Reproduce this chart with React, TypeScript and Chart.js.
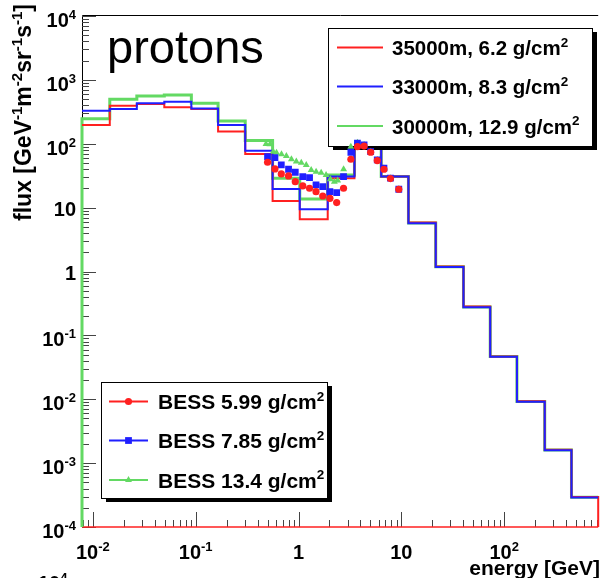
import React, { useEffect, useRef } from 'react';
import { Chart, registerables } from 'chart.js';

Chart.register(...registerables);

// ---------- data ----------
const binEdges = [0.00785, 0.01462, 0.02679, 0.04955, 0.0908, 0.1652, 0.3034, 0.5598, 1.028, 1.923, 3.499, 6.368, 11.72, 21.58, 40.18, 73.11, 133.0, 247.7, 450.8, 820];

const flux35000m = [197, 394, 420, 372, 351, 155, 69, 12.7, 6.6, 28.8, 100, 30.6, 5.85, 1.2, 0.283, 0.0468, 0.0093, 0.00162, 0.000296];
const flux33000m = [330, 351, 430, 456, 357, 197, 78, 19.6, 9.4, 30.6, 100, 30.8, 5.7, 1.18, 0.276, 0.0462, 0.0091, 0.00159, 0.00029];
const flux30000m = [247, 497, 560, 581, 430, 227, 112, 28.8, 13.7, 32.5, 103, 30.6, 5.75, 1.19, 0.279, 0.0465, 0.0092, 0.0016, 0.000292];

const bessEnergyA = [0.50, 0.59, 0.68, 0.80, 0.93, 1.10, 1.28, 1.48, 1.72, 2.02, 2.35, 2.74, 3.23, 3.74, 4.34, 5.03, 5.83, 6.77, 7.83, 9.44];
const bess599 = [51.3, 40.4, 33.7, 31.3, 25.5, 21.9, 20.1, 17.8, 15.2, 14.0, 12.0, 20.1, 57.2, 90, 92, 73.6, 54.5, 39.9, 28.5, 19.4];
const bess785 = [62.8, 60.6, 46.6, 39.9, 35.8, 30.6, 29.5, 22.7, 21.3, 17.8, 17.2, 30.6, 73.6, 102, 95.7, 75.2, 55.8, 41.4, 28.9, 19.4];
const bessEnergyB = [0.483, 0.528, 0.568, 0.611, 0.683, 0.762, 0.853, 0.952, 1.064, 1.189, 1.328, 1.483, 1.660, 1.853, 2.043, 2.232, 2.403, 2.744, 3.226, 3.743, 4.342, 5.026, 5.834, 6.766, 7.833, 9.44];
const bess134 = [99.3, 98.2, 75.2, 72.6, 68.5, 64.5, 57.2, 52.5, 50.6, 46.6, 38.9, 36.6, 35.3, 32.5, 27.8, 25.5, 26.5, 39.9, 90.1, 104, 95.7, 75.2, 55.8, 41.4, 28.9, 19.4];

const histLabels = ['35000m, 6.2 g/cm^{2}', '33000m, 8.3 g/cm^{2}', '30000m, 12.9 g/cm^{2}'];
const bessLabels = ['BESS 5.99 g/cm^{2}', 'BESS 7.85 g/cm^{2}', 'BESS 13.4 g/cm^{2}'];

const xTickValues = [0.01, 0.1, 1, 10, 100];
const xTickLabels = ['10^{-2}', '10^{-1}', '1', '10', '10^{2}'];
const yTickValues = [1e-4, 1e-3, 1e-2, 1e-1, 1, 10, 100, 1000, 10000];
const yTickLabels = ['10^{-4}', '10^{-3}', '10^{-2}', '10^{-1}', '1', '10', '10^{2}', '10^{3}', '10^{4}'];

const xTitle = 'energy [GeV]';
const yTitle = 'flux [GeV^{-1}m^{-2}sr^{-1}s^{-1}]';
const plotLabel = 'protons';

const X_MIN = 0.00785;
const X_MAX = 820;
const Y_MIN = 1e-4;
const Y_MAX = 1e4;

const RED = '#ff2020';
const BLUE = '#1f1fff';
const GREEN = '#63d963';
const FONT = '"Liberation Sans", Arial, Helvetica, sans-serif';

// ---------- helpers ----------
type Seg = { t: string; sup?: boolean };
function parseSup(s: string): Seg[] {
  const out: Seg[] = [];
  const re = /\^\{([^}]*)\}/g;
  let last = 0;
  let m: RegExpExecArray | null;
  while ((m = re.exec(s))) {
    if (m.index > last) out.push({ t: s.slice(last, m.index) });
    out.push({ t: m[1], sup: true });
    last = re.lastIndex;
  }
  if (last < s.length) out.push({ t: s.slice(last) });
  return out;
}
function segsWidth(ctx: CanvasRenderingContext2D, segs: Seg[], size: number, supSize: number, weight: string) {
  let w = 0;
  for (const s of segs) {
    ctx.font = `${weight} ${s.sup ? supSize : size}px ${FONT}`;
    w += ctx.measureText(s.t).width;
  }
  return w;
}
function drawSegs(ctx: CanvasRenderingContext2D, segs: Seg[], x: number, base: number, size: number, supSize: number, weight: string, rise: number) {
  let cx = x;
  ctx.textAlign = 'left';
  ctx.textBaseline = 'alphabetic';
  for (const s of segs) {
    ctx.font = `${weight} ${s.sup ? supSize : size}px ${FONT}`;
    ctx.fillText(s.t, cx, s.sup ? base - rise : base);
    cx += ctx.measureText(s.t).width;
  }
  return cx;
}

// step outline of a histogram; optional closing lines down to the axis floor
function stepPoints(edges: number[], vals: number[], floor: number, riseLeft: boolean, dropRight: boolean) {
  const pts: { x: number; y: number }[] = [];
  if (riseLeft) pts.push({ x: edges[0], y: floor });
  vals.forEach((v, i) => pts.push({ x: edges[i], y: v }));
  pts.push({ x: edges[edges.length - 1], y: vals[vals.length - 1] });
  if (dropRight) pts.push({ x: edges[edges.length - 1], y: floor });
  return pts;
}
function zip(xs: number[], ys: number[]) {
  return xs.map((x, i) => ({ x, y: ys[i] }));
}

function drawMarker(ctx: CanvasRenderingContext2D, style: string, x: number, y: number, r: number, color: string) {
  ctx.fillStyle = color;
  ctx.beginPath();
  if (style === 'circle') {
    ctx.arc(x, y, r, 0, Math.PI * 2);
  } else if (style === 'rect') {
    const s = r / Math.SQRT2;
    ctx.rect(x - s, y - s, 2 * s, 2 * s);
  } else {
    for (let k = 0; k < 3; k++) {
      const a = -Math.PI / 2 + (k * 2 * Math.PI) / 3;
      const px = x + r * Math.cos(a);
      const py = y + r * Math.sin(a);
      if (k === 0) ctx.moveTo(px, py); else ctx.lineTo(px, py);
    }
    ctx.closePath();
  }
  ctx.fill();
}

function drawLegendBox(ctx: CanvasRenderingContext2D, x: number, y: number, w: number, h: number) {
  ctx.fillStyle = '#000';
  ctx.fillRect(x + 5, y + 4, w, h);
  ctx.fillStyle = '#fff';
  ctx.fillRect(x, y, w, h);
  ctx.strokeStyle = '#000';
  ctx.lineWidth = 1;
  ctx.strokeRect(x + 0.5, y + 0.5, w, h);
}

const rootPlugin = {
  id: 'rootStyle',
  beforeDatasetsDraw(chart: any) {
    const { ctx, chartArea: a, scales } = chart;
    const x = scales.x;
    const y = scales.y;
    ctx.save();
    // frame
    ctx.strokeStyle = '#000';
    ctx.lineWidth = 1;
    ctx.beginPath();
    ctx.moveTo(a.left + 0.5, a.bottom);
    ctx.lineTo(a.left + 0.5, a.top - 0.5);
    ctx.lineTo(a.right, a.top - 0.5);
    ctx.stroke();
    // ticks
    ctx.strokeStyle = '#444';
    ctx.beginPath();
    for (let e = -4; e <= 4; e++) {
      for (let k = 1; k <= 9; k++) {
        const v = k * Math.pow(10, e);
        if (v < Y_MIN * 0.999 || v > Y_MAX * 1.001) continue;
        const py = Math.round(y.getPixelForValue(v)) + 0.5;
        const len = k === 1 ? 14 : 7;
        ctx.moveTo(a.left, py);
        ctx.lineTo(a.left + len, py);
      }
    }
    for (let e = -3; e <= 2; e++) {
      for (let k = 1; k <= 9; k++) {
        const v = k * Math.pow(10, e);
        if (v < X_MIN || v > X_MAX) continue;
        const px = Math.round(x.getPixelForValue(v)) + 0.5;
        const len = k === 1 ? 15 : 7;
        ctx.moveTo(px, a.bottom);
        ctx.lineTo(px, a.bottom - len);
      }
    }
    ctx.stroke();
    // bottom red line
    ctx.strokeStyle = RED;
    ctx.lineWidth = 1.5;
    ctx.beginPath();
    ctx.moveTo(a.left, a.bottom);
    ctx.lineTo(a.right, a.bottom);
    ctx.stroke();
    ctx.restore();
  },
  afterDatasetDraw(chart: any, args: any) {
    if (args.index !== 1) return;
    const { ctx } = chart;
    const ds = chart.data.datasets;
    ctx.save();
    // legend 1: histograms
    const l1 = { x: 328, y: 28, w: 264, h: 118 };
    drawLegendBox(ctx, l1.x, l1.y, l1.w, l1.h);
    const rows = [19.5, 58.5, 98];
    for (let i = 0; i < 3; i++) {
      const ry = l1.y + rows[i];
      ctx.strokeStyle = ds[i].borderColor;
      ctx.lineWidth = 2;
      ctx.beginPath();
      ctx.moveTo(337, ry);
      ctx.lineTo(383, ry);
      ctx.stroke();
      ctx.fillStyle = '#000';
      drawSegs(ctx, parseSup(ds[i].label), 392, ry + 7.5, 20.5, 13.5, 'bold', 8.5);
    }
    // legend 2: BESS
    const l2 = { x: 101, y: 382, w: 226, h: 116 };
    drawLegendBox(ctx, l2.x, l2.y, l2.w, l2.h);
    for (let i = 0; i < 3; i++) {
      const d = ds[3 + i];
      const ry = l2.y + rows[i];
      ctx.strokeStyle = d.borderColor;
      ctx.lineWidth = 2;
      ctx.beginPath();
      ctx.moveTo(109, ry);
      ctx.lineTo(148, ry);
      ctx.stroke();
      drawMarker(ctx, d.pointStyle, 128.5, ry, d.pointRadius, d.backgroundColor);
      ctx.fillStyle = '#000';
      drawSegs(ctx, parseSup(d.label), 158, ry + 7.5, 21, 13.5, 'bold', 8.5);
    }
    ctx.restore();
  },
  afterDraw(chart: any) {
    const { ctx, scales } = chart;
    const x = scales.x;
    const y = scales.y;
    ctx.save();
    ctx.fillStyle = '#000';
    // y tick labels
    yTickValues.forEach((v, i) => {
      const segs = parseSup(yTickLabels[i]);
      const hasSup = segs.some((s) => s.sup);
      const w = segsWidth(ctx, segs, 20, 13, 'bold');
      const py = y.getPixelForValue(v);
      drawSegs(ctx, segs, 76 - w, py + (hasSup ? 11 : 8), 20, 13, 'bold', 8);
    });
    // x tick labels
    xTickValues.forEach((v, i) => {
      const segs = parseSup(xTickLabels[i]);
      const w = segsWidth(ctx, segs, 20, 13, 'bold');
      const px = x.getPixelForValue(v);
      drawSegs(ctx, segs, px - w / 2, 559, 20, 13, 'bold', 8);
    });
    // x title
    const xs = parseSup(xTitle);
    const xw = segsWidth(ctx, xs, 21, 13, 'bold');
    drawSegs(ctx, xs, 600 - xw, 575, 21, 13, 'bold', 8);
    // y title (rotated)
    const ys = parseSup(yTitle);
    const yw = segsWidth(ctx, ys, 23, 15, 'bold');
    ctx.save();
    ctx.translate(31, 4 + yw);
    ctx.rotate(-Math.PI / 2);
    drawSegs(ctx, ys, 0, 0, 23, 15, 'bold', 9.5);
    ctx.restore();
    // plot label
    ctx.font = `47px ${FONT}`;
    ctx.textAlign = 'left';
    ctx.textBaseline = 'alphabetic';
    ctx.fillText(plotLabel, 107, 63);
    // fragment of next panel's label at the bottom edge
    drawSegs(ctx, parseSup('10^{4}'), 38, 590, 20, 13, 'bold', 8);
    ctx.restore();
  },
};

export default function App() {
  const ref = useRef<HTMLCanvasElement>(null);
  useEffect(() => {
    const canvas = ref.current!;
    const histCommon = {
      showLine: true,
      stepped: 'before' as const,
      pointRadius: 0,
      fill: false,
      clip: false as any,
    };
    const chart = new Chart(canvas, {
      type: 'scatter',
      data: {
        datasets: [
          { ...histCommon, label: histLabels[0], data: stepPoints(binEdges, flux35000m, Y_MIN, false, true), borderColor: RED, backgroundColor: RED, borderWidth: 2, order: 9 },
          { ...histCommon, label: histLabels[1], data: stepPoints(binEdges, flux33000m, Y_MIN, false, false), borderColor: BLUE, backgroundColor: BLUE, borderWidth: 2, order: 8 },
          { ...histCommon, label: histLabels[2], data: stepPoints(binEdges, flux30000m, Y_MIN, true, false), borderColor: GREEN, backgroundColor: GREEN, borderWidth: 3, order: 10 },
          { label: bessLabels[0], data: zip(bessEnergyA, bess599), showLine: false, pointStyle: 'circle', pointRadius: 3.6, borderWidth: 0, borderColor: RED, backgroundColor: RED, order: 5 },
          { label: bessLabels[1], data: zip(bessEnergyA, bess785), showLine: false, pointStyle: 'rect', pointRadius: 4.8, borderWidth: 0, borderColor: BLUE, backgroundColor: BLUE, order: 6 },
          { label: bessLabels[2], data: zip(bessEnergyB, bess134), showLine: false, pointStyle: 'triangle', pointRadius: 4, borderWidth: 0, borderColor: GREEN, backgroundColor: GREEN, order: 7 },
        ] as any,
      },
      options: {
        animation: false,
        responsive: false,
        devicePixelRatio: 1,
        events: [],
        layout: { padding: { top: 16, right: 0, left: 0, bottom: 0 } },
        plugins: { legend: { display: false }, tooltip: { enabled: false } },
        scales: {
          x: {
            type: 'logarithmic',
            min: X_MIN,
            max: X_MAX,
            grid: { display: false },
            border: { display: false },
            ticks: { display: false },
            afterFit: (s: any) => { s.height = 51; },
          },
          y: {
            type: 'logarithmic',
            min: Y_MIN,
            max: Y_MAX,
            grid: { display: false },
            border: { display: false },
            ticks: { display: false },
            afterFit: (s: any) => { s.width = 82; },
          },
        },
      } as any,
      plugins: [rootPlugin],
    });
    return () => chart.destroy();
  }, []);
  return (
    <div style={{ position: 'fixed', left: 0, top: 0, width: 603, height: 578, background: '#fff' }}>
      <canvas ref={ref} width={603} height={578} style={{ width: 603, height: 578, display: 'block' }} />
    </div>
  );
}
